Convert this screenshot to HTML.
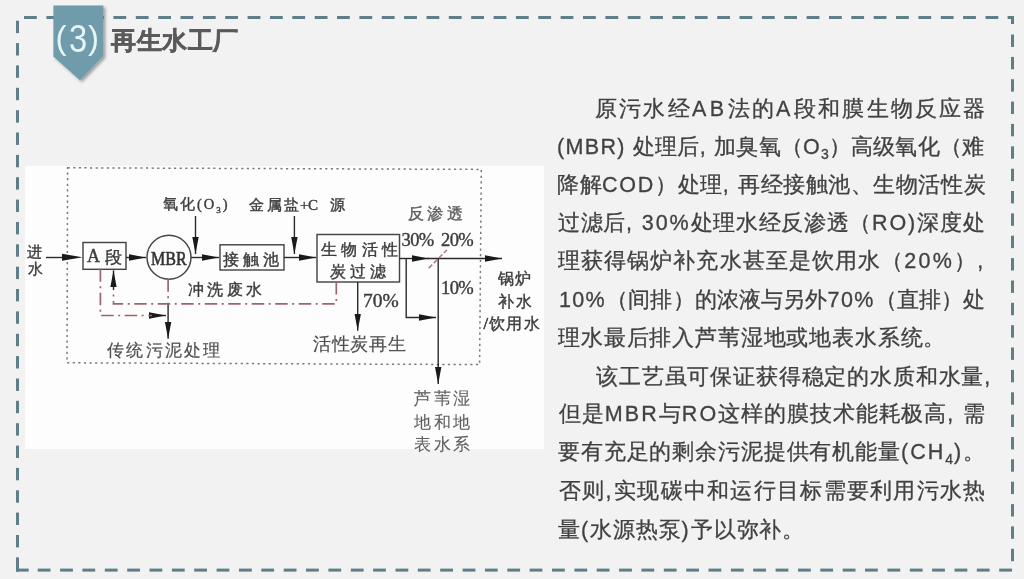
<!DOCTYPE html>
<html><head><meta charset="utf-8">
<style>
html,body{margin:0;padding:0}
body{width:1024px;height:579px;position:relative;overflow:hidden;background:#f2f2f2;font-family:"Liberation Sans",sans-serif}
.abs{position:absolute;white-space:nowrap}
.t{position:absolute;white-space:nowrap;font-size:21.5px;line-height:24px;color:#414141;-webkit-text-stroke:0.3px #414141;letter-spacing:var(--ls);will-change:transform}
.t b{font-weight:normal}
.t .l{letter-spacing:calc(var(--ls) + 1.2px)}
.t sub{font-size:14px;vertical-align:-5px;line-height:0}
</style></head><body>
<svg class="abs" style="left:0;top:0" width="1024" height="579" viewBox="0 0 1024 579">
<g fill="#5e7f87"><rect x="24.0" y="16.0" width="12.8" height="3.0"/><rect x="46.4" y="16.0" width="12.8" height="3.0"/><rect x="68.7" y="16.0" width="12.8" height="3.0"/><rect x="91.1" y="16.0" width="12.8" height="3.0"/><rect x="113.4" y="16.0" width="12.8" height="3.0"/><rect x="135.8" y="16.0" width="12.8" height="3.0"/><rect x="158.2" y="16.0" width="12.8" height="3.0"/><rect x="180.5" y="16.0" width="12.8" height="3.0"/><rect x="202.9" y="16.0" width="12.8" height="3.0"/><rect x="225.2" y="16.0" width="12.8" height="3.0"/><rect x="247.6" y="16.0" width="12.8" height="3.0"/><rect x="270.0" y="16.0" width="12.8" height="3.0"/><rect x="292.3" y="16.0" width="12.8" height="3.0"/><rect x="314.7" y="16.0" width="12.8" height="3.0"/><rect x="337.0" y="16.0" width="12.8" height="3.0"/><rect x="359.4" y="16.0" width="12.8" height="3.0"/><rect x="381.8" y="16.0" width="12.8" height="3.0"/><rect x="404.1" y="16.0" width="12.8" height="3.0"/><rect x="426.5" y="16.0" width="12.8" height="3.0"/><rect x="448.8" y="16.0" width="12.8" height="3.0"/><rect x="471.2" y="16.0" width="12.8" height="3.0"/><rect x="493.6" y="16.0" width="12.8" height="3.0"/><rect x="515.9" y="16.0" width="12.8" height="3.0"/><rect x="538.3" y="16.0" width="12.8" height="3.0"/><rect x="560.6" y="16.0" width="12.8" height="3.0"/><rect x="583.0" y="16.0" width="12.8" height="3.0"/><rect x="605.4" y="16.0" width="12.8" height="3.0"/><rect x="627.7" y="16.0" width="12.8" height="3.0"/><rect x="650.1" y="16.0" width="12.8" height="3.0"/><rect x="672.4" y="16.0" width="12.8" height="3.0"/><rect x="694.8" y="16.0" width="12.8" height="3.0"/><rect x="717.2" y="16.0" width="12.8" height="3.0"/><rect x="739.5" y="16.0" width="12.8" height="3.0"/><rect x="761.9" y="16.0" width="12.8" height="3.0"/><rect x="784.2" y="16.0" width="12.8" height="3.0"/><rect x="806.6" y="16.0" width="12.8" height="3.0"/><rect x="829.0" y="16.0" width="12.8" height="3.0"/><rect x="851.3" y="16.0" width="12.8" height="3.0"/><rect x="873.7" y="16.0" width="12.8" height="3.0"/><rect x="896.0" y="16.0" width="12.8" height="3.0"/><rect x="918.4" y="16.0" width="12.8" height="3.0"/><rect x="940.8" y="16.0" width="12.8" height="3.0"/><rect x="963.1" y="16.0" width="12.8" height="3.0"/><rect x="985.5" y="16.0" width="12.8" height="3.0"/><rect x="1007.6" y="16.0" width="6.4" height="3.0"/><rect x="1011.0" y="16.0" width="3.0" height="8.0"/><rect x="1011.0" y="34.5" width="3.0" height="12.4"/><rect x="1011.0" y="56.9" width="3.0" height="12.4"/><rect x="1011.0" y="79.2" width="3.0" height="12.4"/><rect x="1011.0" y="101.6" width="3.0" height="12.4"/><rect x="1011.0" y="123.9" width="3.0" height="12.4"/><rect x="1011.0" y="146.3" width="3.0" height="12.4"/><rect x="1011.0" y="168.7" width="3.0" height="12.4"/><rect x="1011.0" y="191.0" width="3.0" height="12.4"/><rect x="1011.0" y="213.4" width="3.0" height="12.4"/><rect x="1011.0" y="235.7" width="3.0" height="12.4"/><rect x="1011.0" y="258.1" width="3.0" height="12.4"/><rect x="1011.0" y="280.5" width="3.0" height="12.4"/><rect x="1011.0" y="302.8" width="3.0" height="12.4"/><rect x="1011.0" y="325.2" width="3.0" height="12.4"/><rect x="1011.0" y="347.5" width="3.0" height="12.4"/><rect x="1011.0" y="369.9" width="3.0" height="12.4"/><rect x="1011.0" y="392.3" width="3.0" height="12.4"/><rect x="1011.0" y="414.6" width="3.0" height="12.4"/><rect x="1011.0" y="437.0" width="3.0" height="12.4"/><rect x="1011.0" y="459.3" width="3.0" height="12.4"/><rect x="1011.0" y="481.7" width="3.0" height="12.4"/><rect x="1011.0" y="504.1" width="3.0" height="12.4"/><rect x="1011.0" y="526.4" width="3.0" height="12.4"/><rect x="1011.0" y="548.8" width="3.0" height="12.4"/><rect x="999.2" y="568.6" width="12.8" height="3.0"/><rect x="976.8" y="568.6" width="12.8" height="3.0"/><rect x="954.5" y="568.6" width="12.8" height="3.0"/><rect x="932.1" y="568.6" width="12.8" height="3.0"/><rect x="909.8" y="568.6" width="12.8" height="3.0"/><rect x="887.4" y="568.6" width="12.8" height="3.0"/><rect x="865.0" y="568.6" width="12.8" height="3.0"/><rect x="842.7" y="568.6" width="12.8" height="3.0"/><rect x="820.3" y="568.6" width="12.8" height="3.0"/><rect x="798.0" y="568.6" width="12.8" height="3.0"/><rect x="775.6" y="568.6" width="12.8" height="3.0"/><rect x="753.2" y="568.6" width="12.8" height="3.0"/><rect x="730.9" y="568.6" width="12.8" height="3.0"/><rect x="708.5" y="568.6" width="12.8" height="3.0"/><rect x="686.2" y="568.6" width="12.8" height="3.0"/><rect x="663.8" y="568.6" width="12.8" height="3.0"/><rect x="641.4" y="568.6" width="12.8" height="3.0"/><rect x="619.1" y="568.6" width="12.8" height="3.0"/><rect x="596.7" y="568.6" width="12.8" height="3.0"/><rect x="574.4" y="568.6" width="12.8" height="3.0"/><rect x="552.0" y="568.6" width="12.8" height="3.0"/><rect x="529.6" y="568.6" width="12.8" height="3.0"/><rect x="507.3" y="568.6" width="12.8" height="3.0"/><rect x="484.9" y="568.6" width="12.8" height="3.0"/><rect x="462.6" y="568.6" width="12.8" height="3.0"/><rect x="440.2" y="568.6" width="12.8" height="3.0"/><rect x="417.8" y="568.6" width="12.8" height="3.0"/><rect x="395.5" y="568.6" width="12.8" height="3.0"/><rect x="373.1" y="568.6" width="12.8" height="3.0"/><rect x="350.8" y="568.6" width="12.8" height="3.0"/><rect x="328.4" y="568.6" width="12.8" height="3.0"/><rect x="306.0" y="568.6" width="12.8" height="3.0"/><rect x="283.7" y="568.6" width="12.8" height="3.0"/><rect x="261.3" y="568.6" width="12.8" height="3.0"/><rect x="239.0" y="568.6" width="12.8" height="3.0"/><rect x="216.6" y="568.6" width="12.8" height="3.0"/><rect x="194.2" y="568.6" width="12.8" height="3.0"/><rect x="171.9" y="568.6" width="12.8" height="3.0"/><rect x="149.5" y="568.6" width="12.8" height="3.0"/><rect x="127.2" y="568.6" width="12.8" height="3.0"/><rect x="104.8" y="568.6" width="12.8" height="3.0"/><rect x="82.4" y="568.6" width="12.8" height="3.0"/><rect x="60.1" y="568.6" width="12.8" height="3.0"/><rect x="37.7" y="568.6" width="12.8" height="3.0"/><rect x="16.0" y="568.6" width="12.7" height="3.0"/><rect x="16.0" y="557.4" width="3.0" height="14.2"/><rect x="16.0" y="535.0" width="3.0" height="12.4"/><rect x="16.0" y="512.6" width="3.0" height="12.4"/><rect x="16.0" y="490.3" width="3.0" height="12.4"/><rect x="16.0" y="467.9" width="3.0" height="12.4"/><rect x="16.0" y="445.6" width="3.0" height="12.4"/><rect x="16.0" y="423.2" width="3.0" height="12.4"/><rect x="16.0" y="400.8" width="3.0" height="12.4"/><rect x="16.0" y="378.5" width="3.0" height="12.4"/><rect x="16.0" y="356.1" width="3.0" height="12.4"/><rect x="16.0" y="333.8" width="3.0" height="12.4"/><rect x="16.0" y="311.4" width="3.0" height="12.4"/><rect x="16.0" y="289.0" width="3.0" height="12.4"/><rect x="16.0" y="266.7" width="3.0" height="12.4"/><rect x="16.0" y="244.3" width="3.0" height="12.4"/><rect x="16.0" y="222.0" width="3.0" height="12.4"/><rect x="16.0" y="199.6" width="3.0" height="12.4"/><rect x="16.0" y="177.2" width="3.0" height="12.4"/><rect x="16.0" y="154.9" width="3.0" height="12.4"/><rect x="16.0" y="132.5" width="3.0" height="12.4"/><rect x="16.0" y="110.2" width="3.0" height="12.4"/><rect x="16.0" y="87.8" width="3.0" height="12.4"/><rect x="16.0" y="65.4" width="3.0" height="12.4"/><rect x="16.0" y="43.1" width="3.0" height="12.4"/><rect x="16.0" y="20.7" width="3.0" height="12.4"/></g>
</svg>
<div class="abs" style="left:25px;top:166px;width:519px;height:283px;background:#fdfdfd"></div>
<svg class="abs" style="left:0;top:0" width="1024" height="579" viewBox="0 0 1024 579">
<defs>
<marker id="ah" viewBox="0 -0.5 17 7" refX="17" refY="3" markerWidth="17" markerHeight="7" markerUnits="userSpaceOnUse" orient="auto"><path d="M0,-0.2 L17,3 L0,6.2 Z" fill="#1a1a1a"/></marker>
</defs>
<path d="M67.6,167.8 L481.3,169.4 L479.6,364.6 L67,362.8 Z" fill="none" stroke="#7a7a7a" stroke-width="1.5" stroke-dasharray="2.2 3.4"/>
<g stroke="#454545" stroke-width="1.45" fill="none">
<rect x="83" y="242.5" width="43" height="26.8"/>
<circle cx="169" cy="257.3" r="22"/>
<rect x="220" y="244.8" width="64" height="25.2"/>
<rect x="317" y="234.5" width="82.5" height="47.5"/>
</g>
<g stroke="#2a2a2a" stroke-width="1.4" fill="none">
<path d="M46,257.5 H64"/><polygon points="62,253.8 82.5,257.3 62,260.8" fill="#1a1a1a" stroke="none"/>
<path d="M126,257.5 H146" marker-end="url(#ah)"/>
<path d="M191,257.5 H219" marker-end="url(#ah)"/>
<path d="M284,257.5 H316" marker-end="url(#ah)"/>
<path d="M399.5,258.5 H428.7" marker-end="url(#ah)"/>
<path d="M427,258.5 H502" marker-end="url(#ah)"/>
<path d="M195.5,216 V254" marker-end="url(#ah)"/>
<path d="M294.4,216 V254" marker-end="url(#ah)"/>
<path d="M406.2,258.5 V317.5 H436" marker-end="url(#ah)"/>
<path d="M438.2,258.5 V384" marker-end="url(#ah)"/>
<path d="M357.7,282 V330.8" marker-end="url(#ah)"/>
<path d="M168.1,303.7 V338.8" marker-end="url(#ah)"/>
<path d="M113.5,290 V270.4" marker-end="url(#ah)"/>
<path d="M150,315.5 H166" marker-end="url(#ah)"/>
</g>
<g stroke="#9a666c" stroke-width="1.7" fill="none" stroke-dasharray="12.5 4.5 2 4.5">
<path d="M336.3,282 V303.9 H113.5 V290"/>
<path d="M100.4,269.3 V315.5 H152"/>
<path d="M168.1,279.3 V303.7"/>
</g>
<path d="M428.7,268.2 L446.8,250" stroke="#b07a80" stroke-width="1.6" stroke-dasharray="5 2.2"/>
</svg>
<div class="abs" style="left:0;top:0;font-family:'Liberation Serif',serif;color:#3c3c3c;will-change:transform;-webkit-text-stroke:0.4px #3c3c3c">
<span class="abs" style="left:26.5px;top:241.5px;font-size:15px;line-height:20px">进</span>
<span class="abs" style="left:27.5px;top:259px;font-size:15px;line-height:20px">水</span>
<span class="abs" style="left:87px;top:245.5px;font-size:18px;line-height:20px">A</span>
<span class="abs" style="left:105px;top:248px;font-size:17px;line-height:20px">段</span>
<span class="abs" style="left:150.5px;top:248.5px;font-size:18.6px;line-height:20px;transform:scaleX(0.86);transform-origin:0 0;-webkit-text-stroke:0.6px #333;color:#333">MBR</span>
<span class="abs" style="left:163px;top:194px;font-size:14.5px;line-height:20px;letter-spacing:2px">氧化(O<sub style="font-size:9px">3</sub>)</span>
<span class="abs" style="left:249px;top:195px;font-size:14.5px;line-height:20px;letter-spacing:2.7px">金属盐</span><span class="abs" style="left:300px;top:195px;font-size:15px;line-height:20px;letter-spacing:-0.5px">+C</span><span class="abs" style="left:330px;top:195px;font-size:14.5px;line-height:20px">源</span>
<span class="abs" style="left:223px;top:249.5px;font-size:15.5px;line-height:20px;letter-spacing:4px">接触池</span>
<span class="abs" style="left:188px;top:279.7px;font-size:15.5px;line-height:20px;letter-spacing:3.3px">冲洗废水</span>
<span class="abs" style="left:320.5px;top:240px;font-size:15.5px;line-height:20px;letter-spacing:4.5px">生物活性</span>
<span class="abs" style="left:330px;top:262px;font-size:15.5px;line-height:20px;letter-spacing:4px">炭过滤</span>
<span class="abs" style="left:407.5px;top:204px;font-size:15.5px;line-height:20px;letter-spacing:3.8px;color:#5c5c5c;-webkit-text-stroke:0.35px #5c5c5c">反渗透</span>
<span class="abs" style="left:401.5px;top:230px;font-size:18.5px;line-height:20px;letter-spacing:-0.6px">30%</span>
<span class="abs" style="left:441px;top:230px;font-size:18.5px;line-height:20px;letter-spacing:-0.6px">20%</span>
<span class="abs" style="left:441px;top:278px;font-size:18.5px;line-height:20px;letter-spacing:-0.6px">10%</span>
<span class="abs" style="left:363px;top:290.5px;font-size:19.5px;line-height:20px">70%</span>
<span class="abs" style="left:497.5px;top:269px;font-size:16px;line-height:20px;letter-spacing:1.8px">锅炉</span>
<span class="abs" style="left:497.5px;top:292px;font-size:15.5px;line-height:20px;letter-spacing:2.3px">补水</span>
<span class="abs" style="left:483.5px;top:313.5px;font-size:16.5px;line-height:20px;-webkit-text-stroke:0.6px #3c3c3c">/</span><span class="abs" style="left:488.5px;top:314px;font-size:16px;line-height:20px;letter-spacing:1.6px">饮用水</span>
<span class="abs" style="left:107px;top:341px;font-size:16.5px;line-height:20px;letter-spacing:2.3px;color:#505050;-webkit-text-stroke:0.2px #505050">传统污泥处理</span>
<span class="abs" style="left:313px;top:333.5px;font-size:17.5px;line-height:20px;letter-spacing:0.7px;color:#505050;-webkit-text-stroke:0.2px #505050">活性炭再生</span>
<span class="abs" style="left:414px;top:388.5px;font-size:16.5px;line-height:20px;letter-spacing:2.5px;color:#606060;-webkit-text-stroke:0.1px #606060">芦苇湿</span>
<span class="abs" style="left:414px;top:412.5px;font-size:16.5px;line-height:20px;letter-spacing:2.5px;color:#606060;-webkit-text-stroke:0.1px #606060">地和地</span>
<span class="abs" style="left:414px;top:435px;font-size:16.5px;line-height:20px;letter-spacing:2.5px;color:#606060;-webkit-text-stroke:0.1px #606060">表水系</span>
</div>

<svg class="abs" style="left:0;top:0" width="130" height="100" viewBox="0 0 130 100">
<defs><filter id="sh" x="-20%" y="-20%" width="150%" height="150%"><feGaussianBlur in="SourceAlpha" stdDeviation="1.6"/><feOffset dx="1.5" dy="1.5"/><feComponentTransfer><feFuncA type="linear" slope="0.35"/></feComponentTransfer><feMerge><feMergeNode/><feMergeNode in="SourceGraphic"/></feMerge></filter></defs>
<polygon points="53.4,5.4 103.4,5.4 103.4,56 80,80.3 53.4,56.5" fill="#6f9bab" filter="url(#sh)"/>
</svg>
<div class="abs" style="left:0;top:0;font-size:36px;line-height:40px;color:#e6f4f6;will-change:transform"><span class="abs" style="left:55.5px;top:17.5px;font-size:33px">(</span><span class="abs" style="left:68.5px;top:19px;font-size:38px;transform:scaleX(0.86);transform-origin:0 0">3</span><span class="abs" style="left:88px;top:17.5px;font-size:33px">)</span></div>
<div class="abs" style="left:111px;top:24px;font-size:25px;letter-spacing:0.6px;line-height:32px;font-weight:bold;color:#5a5a5a;-webkit-text-stroke:0.5px #5a5a5a;will-change:transform">再生水工厂</div>
<div class="t" id="L0" style="left:595.0px;top:97.0px;--ls:2.239px">原污水经<b class="l">AB</b>法的<b class="l">A</b>段和膜生物反应器</div>
<div class="t" id="L1" style="left:557.0px;top:134.5px;--ls:0.151px"><b class="l">(MBR)&nbsp;</b>处理后<b class="l">,&nbsp;</b>加臭氧（<b class="l">O</b><sub>3</sub>）高级氧化（难</div>
<div class="t" id="L2" style="left:557.0px;top:172.5px;--ls:0.54px">降解<b class="l">COD</b>）处理<b class="l">,&nbsp;</b>再经接触池、生物活性炭</div>
<div class="t" id="L3" style="left:558.0px;top:210.6px;--ls:0.691px">过滤后<b class="l">,&nbsp;30%</b>处理水经反渗透（<b class="l">RO)</b>深度处</div>
<div class="t" id="L4" style="left:558.0px;top:248.8px;--ls:1.078px">理获得锅炉补充水甚至是饮用水（<b class="l">20%</b>）<b class="l">,</b></div>
<div class="t" id="L5" style="left:559.0px;top:288.0px;--ls:0.15px"><b class="l">10%</b>（间排）的浓液与另外<b class="l">70%</b>（直排）处</div>
<div class="t" id="L6" style="left:558.0px;top:326.3px;--ls:0.834px">理水最后排入芦苇湿地或地表水系统。</div>
<div class="t" id="L7" style="left:596.0px;top:364.5px;--ls:0.838px">该工艺虽可保证获得稳定的水质和水量<b class="l">,</b></div>
<div class="t" id="L8" style="left:559.0px;top:401.7px;--ls:0.9px">但是<b class="l">MBR</b>与<b class="l">RO</b>这样的膜技术能耗极高<b class="l">,&nbsp;</b>需</div>
<div class="t" id="L9" style="left:558.0px;top:439.9px;--ls:0.86px">要有充足的剩余污泥提供有机能量<b class="l">(CH</b><sub>4</sub><b class="l">)</b>。</div>
<div class="t" id="L10" style="left:559.0px;top:479.3px;--ls:1.277px">否则<b class="l">,</b>实现碳中和运行目标需要利用污水热</div>
<div class="t" id="L11" style="left:558.0px;top:517.5px;--ls:0.864px">量<b class="l">(</b>水源热泵<b class="l">)</b>予以弥补。</div>

</body></html>
